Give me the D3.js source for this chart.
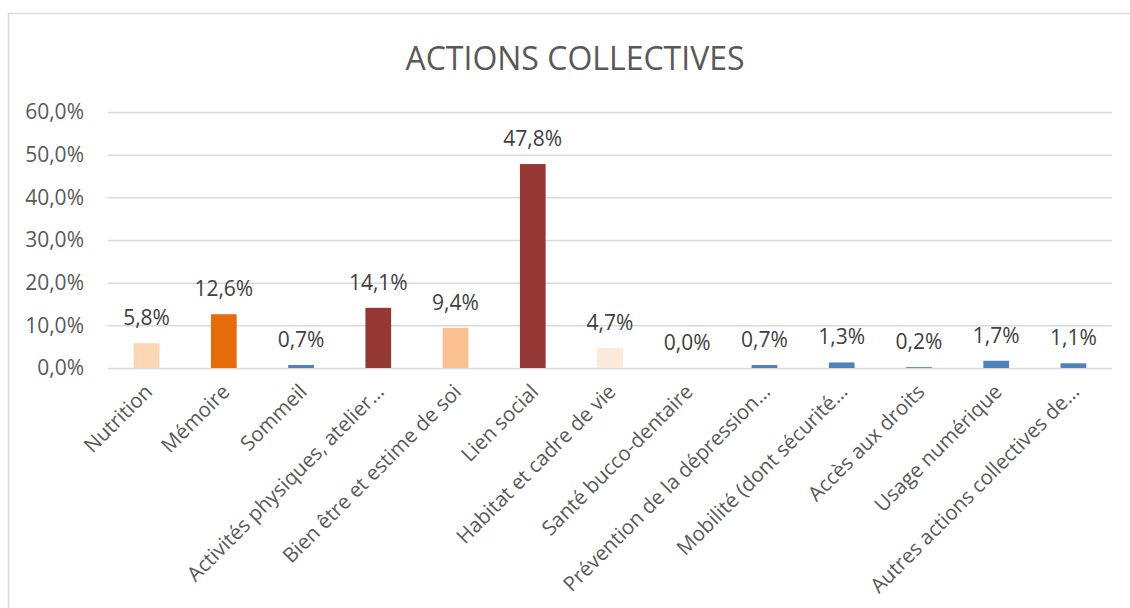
<!DOCTYPE html>
<html><head><meta charset="utf-8">
<script src="https://cdn.jsdelivr.net/npm/d3@7"></script>
<style>body{margin:0;background:#fff;} text{font-family:"Open Sans",sans-serif;}</style>
</head><body>
<svg id="c" width="1130" height="608"></svg>
<script>
const categories = ["Nutrition","Mémoire","Sommeil","Activités physiques, atelier…","Bien être et estime de soi","Lien social","Habitat et cadre de vie","Santé bucco-dentaire","Prévention de la dépression…","Mobilité (dont sécurité…","Accès aux droits","Usage numérique","Autres actions collectives de…"];
const values = [5.8,12.6,0.7,14.1,9.4,47.8,4.7,0.0,0.7,1.3,0.2,1.7,1.1];
const colors = ["#FCD5B4","#E46C0A","#4F81BD","#953735","#FAC090","#953735","#FDE9D9","#4F81BD","#4F81BD","#4F81BD","#4F81BD","#4F81BD","#4F81BD"];
const yTicks = [0,10,20,30,40,50,60];
const title = "ACTIONS COLLECTIVES";

const svg = d3.select("#c");
svg.append("rect").attr("x",8.5).attr("y",13.5).attr("width",1130).attr("height",620)
  .attr("fill","#fff").attr("stroke","#d9d9d9").attr("stroke-width",1.5);

const x = d3.scaleBand().domain(categories).range([108,1112]).paddingInner(0.667).paddingOuter(0.333);
const y = d3.scaleLinear().domain([0,60]).range([368,112]);
const fmt = v => v.toFixed(1).replace(".",",") + "%";

svg.append("text").attr("x",575).attr("y",70).attr("text-anchor","middle")
  .attr("font-size",32).attr("fill","#595959").text(title);

const ya = svg.append("g").attr("transform","translate(108,0)")
  .call(d3.axisLeft(y).tickValues(yTicks).tickSize(-1004).tickFormat(fmt).tickPadding(24));
ya.select(".domain").remove();
ya.selectAll("line").attr("stroke","#d9d9d9").attr("stroke-width",1.5);
ya.selectAll("text").attr("font-size",21).attr("fill","#595959").attr("font-family","Open Sans, sans-serif");

svg.append("g").selectAll("rect").data(categories).join("rect")
  .attr("x",d=>x(d)).attr("width",x.bandwidth())
  .attr("y",(d,i)=>y(values[i])).attr("height",(d,i)=>y(0)-y(values[i]))
  .attr("fill",(d,i)=>colors[i]);

svg.append("g").selectAll("text").data(categories).join("text")
  .attr("x",d=>x(d)+x.bandwidth()/2).attr("y",(d,i)=>y(values[i])-18)
  .attr("text-anchor","middle").attr("font-size",21).attr("fill","#404040")
  .text((d,i)=>fmt(values[i]));

const xa = svg.append("g").attr("transform","translate(0,368)")
  .call(d3.axisBottom(x).tickSize(0).tickPadding(0));
xa.select(".domain").remove();
xa.selectAll("text").attr("font-size",20.5).attr("fill","#595959")
  .attr("font-family","Open Sans, sans-serif")
  .attr("text-anchor","end").attr("dy",0)
  .attr("transform","translate(7,25) rotate(-45)");
</script>
</body></html>
